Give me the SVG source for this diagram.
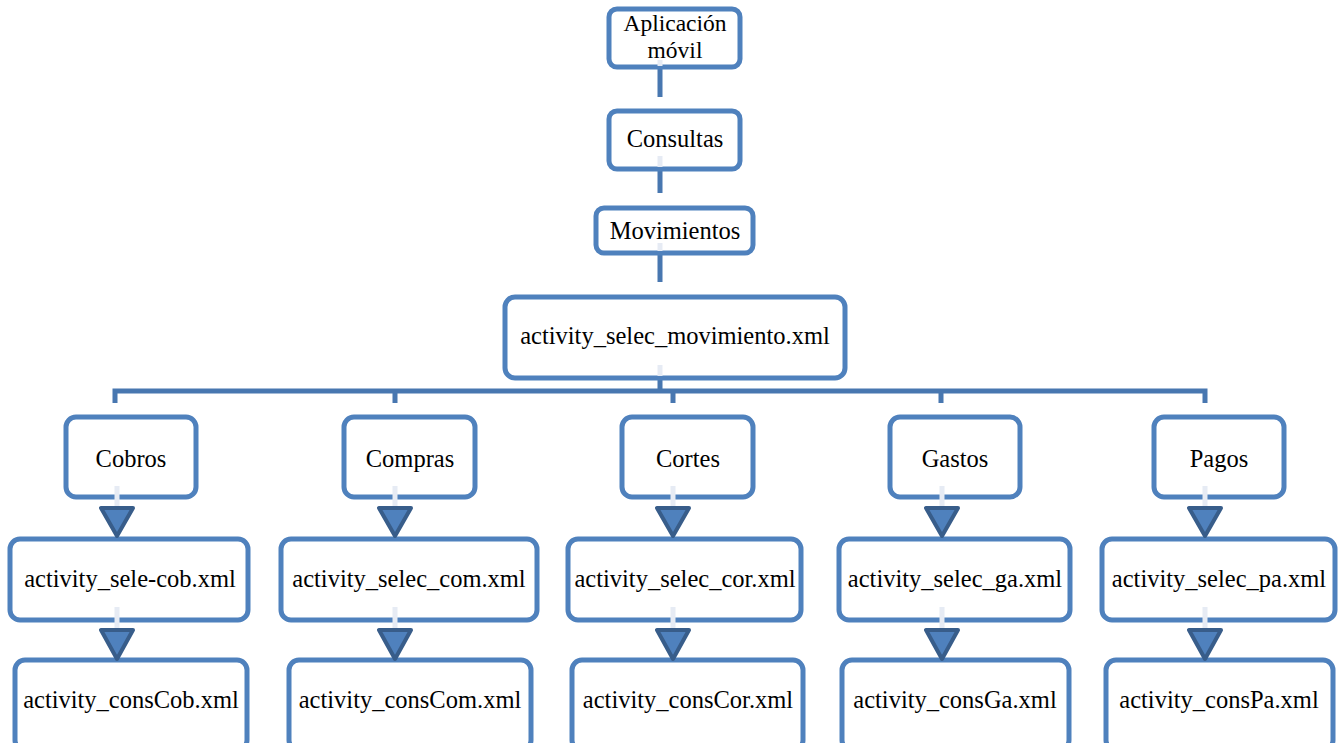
<svg xmlns="http://www.w3.org/2000/svg" width="1341" height="743" viewBox="0 0 1341 743">
<style>
.box{fill:#fff;stroke:#4f81bd;stroke-width:5}
.t{font-family:"Liberation Serif","Times New Roman",serif;font-size:24.5px;fill:#000;text-anchor:middle}
.ln{stroke:#4877b0;stroke-width:5;fill:none}
.faint{stroke:#e6ebf4;stroke-width:5;fill:none}
.ah{fill:#4f81bd;stroke:#385d8a;stroke-width:4;stroke-linejoin:round}
</style>
<rect width="1341" height="743" fill="#fff"/>
<g id="connectors">
<path class="ln" d="M660 69V97M660 171V193M660 255V282M660 380V391M115 403V391H1205V403M395 391V403M673 391V403M941 391V403"/>
</g>
<g id="n1"><rect class="box" x="609" y="9" width="131" height="58" rx="8"/><text class="t" x="675" y="31" style="font-size:23.5px">Aplicación</text><text class="t" x="675" y="58" style="font-size:23.5px">móvil</text><path class="faint" d="M660 60V66"/></g>
<g id="n2"><rect class="box" x="609" y="111" width="131" height="58" rx="8"/><text class="t" x="675" y="147">Consultas</text><path class="faint" d="M660 156V167"/></g>
<g id="n3"><rect class="box" x="596" y="208" width="157" height="45" rx="8"/><text class="t" x="675" y="239">Movimientos</text><path class="faint" d="M660 243V251"/></g>
<g id="n4"><rect class="box" x="505" y="297" width="340" height="81" rx="10"/><text class="t" x="675" y="344">activity_selec_movimiento.xml</text><path class="faint" d="M660 365V376"/></g>
<g id="cobros"><rect class="box" x="66" y="417" width="130" height="80" rx="10"/><text class="t" x="131" y="467">Cobros</text></g>
<g id="compras"><rect class="box" x="344" y="417" width="131" height="80" rx="10"/><text class="t" x="410" y="467">Compras</text></g>
<g id="cortes"><rect class="box" x="622" y="417" width="131" height="80" rx="10"/><text class="t" x="688" y="467">Cortes</text></g>
<g id="gastos"><rect class="box" x="890" y="417" width="130" height="80" rx="10"/><text class="t" x="955" y="467">Gastos</text></g>
<g id="pagos"><rect class="box" x="1154" y="417" width="130" height="80" rx="10"/><text class="t" x="1219" y="467">Pagos</text></g>
<g id="selecob"><rect class="box" x="10" y="539" width="238" height="81" rx="10"/><text class="t" x="130" y="587">activity_sele-cob.xml</text></g>
<g id="seleccom"><rect class="box" x="281" y="539" width="256" height="81" rx="10"/><text class="t" x="409" y="587">activity_selec_com.xml</text></g>
<g id="seleccor"><rect class="box" x="568" y="539" width="233" height="81" rx="10"/><text class="t" x="685" y="587">activity_selec_cor.xml</text></g>
<g id="selecga"><rect class="box" x="839" y="539" width="231" height="81" rx="10"/><text class="t" x="955" y="587">activity_selec_ga.xml</text></g>
<g id="selecpa"><rect class="box" x="1102" y="539" width="233" height="81" rx="10"/><text class="t" x="1219" y="587">activity_selec_pa.xml</text></g>
<g id="conscob"><rect class="box" x="15" y="660" width="232" height="90" rx="10"/><text class="t" x="131" y="708">activity_consCob.xml</text></g>
<g id="conscom"><rect class="box" x="289" y="660" width="242" height="90" rx="10"/><text class="t" x="410" y="708">activity_consCom.xml</text></g>
<g id="conscor"><rect class="box" x="572" y="660" width="231" height="90" rx="10"/><text class="t" x="688" y="708">activity_consCor.xml</text></g>
<g id="consga"><rect class="box" x="842" y="660" width="227" height="90" rx="10"/><text class="t" x="955" y="708">activity_consGa.xml</text></g>
<g id="conspa"><rect class="box" x="1106" y="660" width="227" height="90" rx="10"/><text class="t" x="1219" y="708">activity_consPa.xml</text></g>
<g id="arrows">
<path class="faint" d="M117 486V508M395 486V508M673 486V508M942 486V508M1205 486V508M117 607V630M395 607V630M673 607V630M942 607V630M1205 607V630"/>
<path class="ah" d="M101 508H133L117 536ZM379 508H411L395 536ZM657 508H689L673 536ZM926 508H958L942 536ZM1189 508H1221L1205 536Z"/>
<path class="ah" d="M101 630H133L117 659ZM379 630H411L395 659ZM657 630H689L673 659ZM926 630H958L942 659ZM1189 630H1221L1205 659Z"/>
</g>
</svg>
